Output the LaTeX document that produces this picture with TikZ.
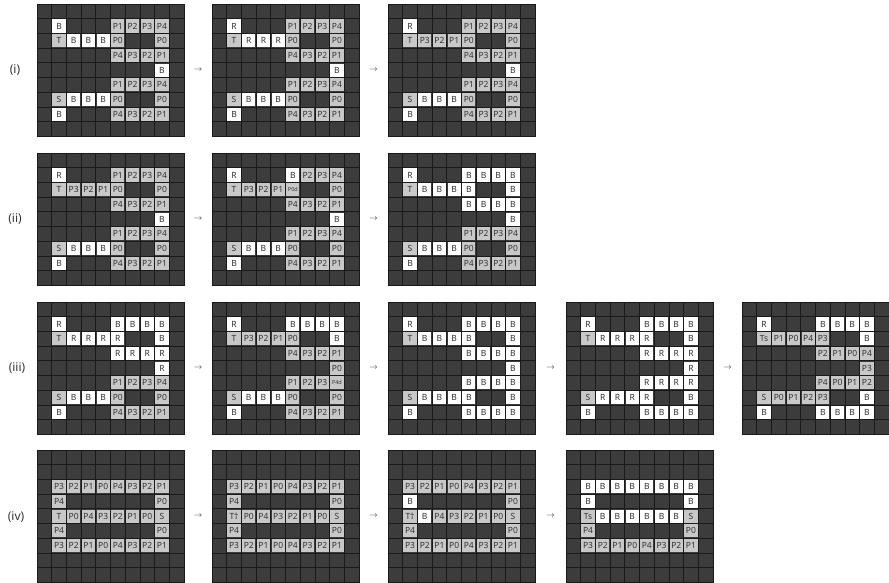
\documentclass[tikz,border=0pt]{standalone}
\usepackage{fontspec}
\setmainfont{Noto Sans}
\usetikzlibrary{calc}
\definecolor{darkcell}{HTML}{3C3C3C}
\definecolor{gridline}{HTML}{1A1A1A}
\definecolor{graycell}{HTML}{C8C8C8}
\definecolor{txt}{HTML}{333333}
\tikzset{
 gridbg/.style={fill=darkcell, draw=gridline, line width=0.8pt, anchor=north west, minimum width=147pt, minimum height=132.3pt, inner sep=0pt, outer sep=0pt},
 gl/.style={draw=gridline, line width=0.8pt},
 cellbase/.style={minimum size=13.2pt, inner sep=0pt, font=\fontsize{8.5}{8.5}\selectfont, text=txt},
 gc/.style={cellbase, fill=graycell},
 wc/.style={cellbase, fill=white},
 gsc/.style={gc, font=\fontsize{5.5}{5.5}\selectfont},
 lbl/.style={font=\fontsize{12}{12}\selectfont, text=txt},
 arr/.style={font=\fontsize{8}{8}\selectfont, text=txt, inner sep=0pt},
}
\newcommand{\DrawGrid}[4]{%
 \node[gridbg] (#1) at (#2,#3) {};
 \begin{scope}[shift={(#2,#3)}]
 \foreach \i in {1,...,9} \draw[gl] (\i*14.7,0) -- (\i*14.7,132.3);
 \foreach \j in {1,...,8} \draw[gl] (0,\j*14.7) -- (147,\j*14.7);
 \foreach \cc/\rr/\st/\tx in {#4} {\node[\st] (#1-\cc-\rr) at ({(\cc+0.5)*14.7},{(\rr+0.5)*14.7}) {\tx};}
 \end{scope}}
\begin{document}
\begin{tikzpicture}[x=1pt,y=-1pt]
\useasboundingbox (0,0) rectangle (889,582);
% ---------- row (i)
\node[lbl] (L1) at (15,70) {(i)};
\DrawGrid{G11}{37}{4}{1/1/wc/B, 5/1/gc/P1, 6/1/gc/P2, 7/1/gc/P3, 8/1/gc/P4,
 1/2/gc/T, 2/2/wc/B, 3/2/wc/B, 4/2/wc/B, 5/2/gc/P0, 8/2/gc/P0,
 5/3/gc/P4, 6/3/gc/P3, 7/3/gc/P2, 8/3/gc/P1,
 8/4/wc/B, 5/5/gc/P1, 6/5/gc/P2, 7/5/gc/P3, 8/5/gc/P4, 1/6/gc/S, 2/6/wc/B, 3/6/wc/B, 4/6/wc/B, 5/6/gc/P0, 8/6/gc/P0, 1/7/wc/B, 5/7/gc/P4, 6/7/gc/P3, 7/7/gc/P2, 8/7/gc/P1}
\DrawGrid{G12}{212}{4}{1/1/wc/R, 5/1/gc/P1, 6/1/gc/P2, 7/1/gc/P3, 8/1/gc/P4,
 1/2/gc/T, 2/2/wc/R, 3/2/wc/R, 4/2/wc/R, 5/2/gc/P0, 8/2/gc/P0,
 5/3/gc/P4, 6/3/gc/P3, 7/3/gc/P2, 8/3/gc/P1,
 8/4/wc/B, 5/5/gc/P1, 6/5/gc/P2, 7/5/gc/P3, 8/5/gc/P4, 1/6/gc/S, 2/6/wc/B, 3/6/wc/B, 4/6/wc/B, 5/6/gc/P0, 8/6/gc/P0, 1/7/wc/B, 5/7/gc/P4, 6/7/gc/P3, 7/7/gc/P2, 8/7/gc/P1}
\DrawGrid{G13}{388}{4}{1/1/wc/R, 5/1/gc/P1, 6/1/gc/P2, 7/1/gc/P3, 8/1/gc/P4,
 1/2/gc/T, 2/2/gc/P3, 3/2/gc/P2, 4/2/gc/P1, 5/2/gc/P0, 8/2/gc/P0,
 5/3/gc/P4, 6/3/gc/P3, 7/3/gc/P2, 8/3/gc/P1,
 8/4/wc/B, 5/5/gc/P1, 6/5/gc/P2, 7/5/gc/P3, 8/5/gc/P4, 1/6/gc/S, 2/6/wc/B, 3/6/wc/B, 4/6/wc/B, 5/6/gc/P0, 8/6/gc/P0, 1/7/wc/B, 5/7/gc/P4, 6/7/gc/P3, 7/7/gc/P2, 8/7/gc/P1}
\node[arr] (A11) at ($(G11.east)!0.5!(G12.west)$) {$\rightarrow$};
\node[arr] (A12) at ($(G12.east)!0.5!(G13.west)$) {$\rightarrow$};
% ---------- row (ii)
\node[lbl] (L2) at (15,219) {(ii)};
\DrawGrid{G21}{37}{153}{1/1/wc/R, 5/1/gc/P1, 6/1/gc/P2, 7/1/gc/P3, 8/1/gc/P4,
 1/2/gc/T, 2/2/gc/P3, 3/2/gc/P2, 4/2/gc/P1, 5/2/gc/P0, 8/2/gc/P0,
 5/3/gc/P4, 6/3/gc/P3, 7/3/gc/P2, 8/3/gc/P1,
 8/4/wc/B, 5/5/gc/P1, 6/5/gc/P2, 7/5/gc/P3, 8/5/gc/P4, 1/6/gc/S, 2/6/wc/B, 3/6/wc/B, 4/6/wc/B, 5/6/gc/P0, 8/6/gc/P0, 1/7/wc/B, 5/7/gc/P4, 6/7/gc/P3, 7/7/gc/P2, 8/7/gc/P1}
\DrawGrid{G22}{212}{153}{1/1/wc/R, 5/1/wc/B, 6/1/gc/P2, 7/1/gc/P3, 8/1/gc/P4,
 1/2/gc/T, 2/2/gc/P3, 3/2/gc/P2, 4/2/gc/P1, 5/2/gsc/P0d, 8/2/gc/P0,
 5/3/gc/P4, 6/3/gc/P3, 7/3/gc/P2, 8/3/gc/P1,
 8/4/wc/B, 5/5/gc/P1, 6/5/gc/P2, 7/5/gc/P3, 8/5/gc/P4, 1/6/gc/S, 2/6/wc/B, 3/6/wc/B, 4/6/wc/B, 5/6/gc/P0, 8/6/gc/P0, 1/7/wc/B, 5/7/gc/P4, 6/7/gc/P3, 7/7/gc/P2, 8/7/gc/P1}
\DrawGrid{G23}{388}{153}{1/1/wc/R, 5/1/wc/B, 6/1/wc/B, 7/1/wc/B, 8/1/wc/B,
 1/2/gc/T, 2/2/wc/B, 3/2/wc/B, 4/2/wc/B, 5/2/wc/B, 8/2/wc/B,
 5/3/wc/B, 6/3/wc/B, 7/3/wc/B, 8/3/wc/B,
 8/4/wc/B, 5/5/gc/P1, 6/5/gc/P2, 7/5/gc/P3, 8/5/gc/P4, 1/6/gc/S, 2/6/wc/B, 3/6/wc/B, 4/6/wc/B, 5/6/gc/P0, 8/6/gc/P0, 1/7/wc/B, 5/7/gc/P4, 6/7/gc/P3, 7/7/gc/P2, 8/7/gc/P1}
\node[arr] (A21) at ($(G21.east)!0.5!(G22.west)$) {$\rightarrow$};
\node[arr] (A22) at ($(G22.east)!0.5!(G23.west)$) {$\rightarrow$};
% ---------- row (iii)
\node[lbl] (L3) at (17,368) {(iii)};
\DrawGrid{G31}{37}{302}{1/1/wc/R, 5/1/wc/B, 6/1/wc/B, 7/1/wc/B, 8/1/wc/B,
 1/2/gc/T, 2/2/wc/R, 3/2/wc/R, 4/2/wc/R, 5/2/wc/R, 8/2/wc/B,
 5/3/wc/R, 6/3/wc/R, 7/3/wc/R, 8/3/wc/R,
 8/4/wc/R, 5/5/gc/P1, 6/5/gc/P2, 7/5/gc/P3, 8/5/gc/P4, 1/6/gc/S, 2/6/wc/B, 3/6/wc/B, 4/6/wc/B, 5/6/gc/P0, 8/6/gc/P0, 1/7/wc/B, 5/7/gc/P4, 6/7/gc/P3, 7/7/gc/P2, 8/7/gc/P1}
\DrawGrid{G32}{212}{302}{1/1/wc/R, 5/1/wc/B, 6/1/wc/B, 7/1/wc/B, 8/1/wc/B,
 1/2/gc/T, 2/2/gc/P3, 3/2/gc/P2, 4/2/gc/P1, 5/2/gc/P0, 8/2/wc/B,
 5/3/gc/P4, 6/3/gc/P3, 7/3/gc/P2, 8/3/gc/P1,
 8/4/gc/P0, 5/5/gc/P1, 6/5/gc/P2, 7/5/gc/P3, 8/5/gsc/P4d, 1/6/gc/S, 2/6/wc/B, 3/6/wc/B, 4/6/wc/B, 5/6/gc/P0, 8/6/gc/P0, 1/7/wc/B, 5/7/gc/P4, 6/7/gc/P3, 7/7/gc/P2, 8/7/gc/P1}
\DrawGrid{G33}{388}{302}{1/1/wc/R, 5/1/wc/B, 6/1/wc/B, 7/1/wc/B, 8/1/wc/B,
 1/2/gc/T, 2/2/wc/B, 3/2/wc/B, 4/2/wc/B, 5/2/wc/B, 8/2/wc/B,
 5/3/wc/B, 6/3/wc/B, 7/3/wc/B, 8/3/wc/B,
 8/4/wc/B, 5/5/wc/B, 6/5/wc/B, 7/5/wc/B, 8/5/wc/B, 1/6/gc/S, 2/6/wc/B, 3/6/wc/B, 4/6/wc/B, 5/6/wc/B, 8/6/wc/B, 1/7/wc/B, 5/7/wc/B, 6/7/wc/B, 7/7/wc/B, 8/7/wc/B}
\DrawGrid{G34}{566}{302}{1/1/wc/R, 5/1/wc/B, 6/1/wc/B, 7/1/wc/B, 8/1/wc/B,
 1/2/gc/T, 2/2/wc/R, 3/2/wc/R, 4/2/wc/R, 5/2/wc/R, 8/2/wc/B,
 5/3/wc/R, 6/3/wc/R, 7/3/wc/R, 8/3/wc/R,
 8/4/wc/R, 5/5/wc/R, 6/5/wc/R, 7/5/wc/R, 8/5/wc/R, 1/6/gc/S, 2/6/wc/R, 3/6/wc/R, 4/6/wc/R, 5/6/wc/R, 8/6/wc/B, 1/7/wc/B, 5/7/wc/B, 6/7/wc/B, 7/7/wc/B, 8/7/wc/B}
\DrawGrid{G35}{742}{302}{1/1/wc/R, 5/1/wc/B, 6/1/wc/B, 7/1/wc/B, 8/1/wc/B,
 1/2/gc/Ts, 2/2/gc/P1, 3/2/gc/P0, 4/2/gc/P4, 5/2/gc/P3, 8/2/wc/B,
 5/3/gc/P2, 6/3/gc/P1, 7/3/gc/P0, 8/3/gc/P4,
 8/4/gc/P3, 5/5/gc/P4, 6/5/gc/P0, 7/5/gc/P1, 8/5/gc/P2, 1/6/gc/S, 2/6/gc/P0, 3/6/gc/P1, 4/6/gc/P2, 5/6/gc/P3, 8/6/wc/B, 1/7/wc/B, 5/7/wc/B, 6/7/wc/B, 7/7/wc/B, 8/7/wc/B}
\node[arr] (A31) at ($(G31.east)!0.5!(G32.west)$) {$\rightarrow$};
\node[arr] (A32) at ($(G32.east)!0.5!(G33.west)$) {$\rightarrow$};
\node[arr] (A33) at ($(G33.east)!0.5!(G34.west)$) {$\rightarrow$};
\node[arr] (A34) at ($(G34.east)!0.5!(G35.west)$) {$\rightarrow$};
% ---------- row (iv)
\node[lbl] (L4) at (16,517) {(iv)};
\DrawGrid{G41}{37}{450}{1/2/gc/P3, 2/2/gc/P2, 3/2/gc/P1, 4/2/gc/P0, 5/2/gc/P4, 6/2/gc/P3, 7/2/gc/P2, 8/2/gc/P1,
 1/3/gc/P4, 8/3/gc/P0,
 1/4/gc/T, 2/4/gc/P0, 3/4/gc/P4, 4/4/gc/P3, 5/4/gc/P2, 6/4/gc/P1, 7/4/gc/P0, 8/4/gc/S,
 1/5/gc/P4, 8/5/gc/P0,
 1/6/gc/P3, 2/6/gc/P2, 3/6/gc/P1, 4/6/gc/P0, 5/6/gc/P4, 6/6/gc/P3, 7/6/gc/P2, 8/6/gc/P1}
\DrawGrid{G42}{212}{450}{1/2/gc/P3, 2/2/gc/P2, 3/2/gc/P1, 4/2/gc/P0, 5/2/gc/P4, 6/2/gc/P3, 7/2/gc/P2, 8/2/gc/P1,
 1/3/gc/P4, 8/3/gc/P0,
 1/4/gc/T†, 2/4/gc/P0, 3/4/gc/P4, 4/4/gc/P3, 5/4/gc/P2, 6/4/gc/P1, 7/4/gc/P0, 8/4/gc/S,
 1/5/gc/P4, 8/5/gc/P0,
 1/6/gc/P3, 2/6/gc/P2, 3/6/gc/P1, 4/6/gc/P0, 5/6/gc/P4, 6/6/gc/P3, 7/6/gc/P2, 8/6/gc/P1}
\DrawGrid{G43}{388}{450}{1/2/gc/P3, 2/2/gc/P2, 3/2/gc/P1, 4/2/gc/P0, 5/2/gc/P4, 6/2/gc/P3, 7/2/gc/P2, 8/2/gc/P1,
 1/3/wc/B, 8/3/gc/P0,
 1/4/gc/T†, 2/4/wc/B, 3/4/gc/P4, 4/4/gc/P3, 5/4/gc/P2, 6/4/gc/P1, 7/4/gc/P0, 8/4/gc/S,
 1/5/gc/P4, 8/5/gc/P0,
 1/6/gc/P3, 2/6/gc/P2, 3/6/gc/P1, 4/6/gc/P0, 5/6/gc/P4, 6/6/gc/P3, 7/6/gc/P2, 8/6/gc/P1}
\DrawGrid{G44}{566}{450}{1/2/wc/B, 2/2/wc/B, 3/2/wc/B, 4/2/wc/B, 5/2/wc/B, 6/2/wc/B, 7/2/wc/B, 8/2/wc/B,
 1/3/wc/B, 8/3/wc/B,
 1/4/gc/Ts, 2/4/wc/B, 3/4/wc/B, 4/4/wc/B, 5/4/wc/B, 6/4/wc/B, 7/4/wc/B, 8/4/gc/S,
 1/5/gc/P4, 8/5/gc/P0,
 1/6/gc/P3, 2/6/gc/P2, 3/6/gc/P1, 4/6/gc/P0, 5/6/gc/P4, 6/6/gc/P3, 7/6/gc/P2, 8/6/gc/P1}
\node[arr] (A41) at ($(G41.east)!0.5!(G42.west)$) {$\rightarrow$};
\node[arr] (A42) at ($(G42.east)!0.5!(G43.west)$) {$\rightarrow$};
\node[arr] (A43) at ($(G43.east)!0.5!(G44.west)$) {$\rightarrow$};
\end{tikzpicture}
\end{document}
